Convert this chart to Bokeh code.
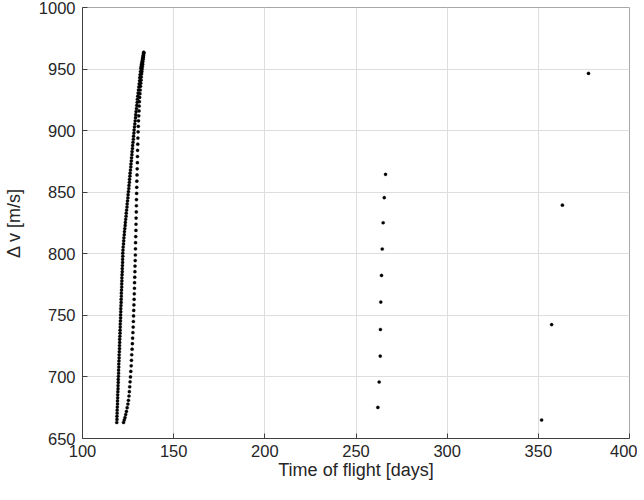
from bokeh.plotting import figure
from bokeh.models import Range1d, FixedTicker, ColumnDataSource
from bokeh.embed import file_html
from bokeh.resources import INLINE

# ---- data ----
loop_inner_y = [663.0, 665.5, 668.0, 670.5, 673.0, 675.5, 678.0, 680.5, 683.0, 685.5, 688.0, 690.5, 693.0, 695.5, 698.0,
                700.5, 703.0, 705.5, 708.0, 710.5, 713.0, 715.5, 718.0, 720.5, 723.0, 725.5, 728.0, 730.5, 733.0, 735.5,
                738.0, 740.5, 743.0, 745.5, 748.0, 750.5, 753.0, 755.5, 758.0, 760.5, 763.0, 765.5, 768.0, 770.5, 773.0,
                775.5, 778.0, 780.5, 783.0, 785.5, 788.0, 790.5, 793.0, 795.5, 798.0, 800.5, 803.0, 805.5, 808.0, 810.5,
                813.0, 815.5, 818.0, 820.5, 823.0, 825.5, 828.0, 830.5, 833.0, 835.5, 838.0, 840.5, 843.0, 845.5, 848.0,
                850.5, 853.0, 855.5, 858.0, 860.5, 863.0, 865.5, 868.0, 870.5, 873.0, 875.5, 878.0, 880.5, 883.0, 885.5,
                888.0, 890.5, 893.0, 895.5, 898.0, 900.5, 903.0, 905.5, 908.0, 910.5, 913.0, 915.5, 918.0, 920.5, 923.0,
                925.5, 928.0, 930.5, 933.0, 935.5, 938.0, 940.5, 943.0, 945.5, 948.0, 950.5, 952.0, 953.5, 955.0, 956.5,
                958.0, 959.5, 961.0, 962.5, 963.5]
loop_inner_x = [118.8, 118.9, 118.9, 119.0, 119.0, 119.1, 119.2, 119.2, 119.3, 119.3, 119.4, 119.5, 119.5, 119.6, 119.6,
                119.7, 119.8, 119.8, 119.9, 119.9, 120.0, 120.1, 120.1, 120.2, 120.3, 120.3, 120.4, 120.4, 120.5, 120.6,
                120.6, 120.7, 120.7, 120.8, 120.9, 120.9, 121.0, 121.0, 121.1, 121.2, 121.2, 121.3, 121.3, 121.4, 121.5,
                121.5, 121.6, 121.6, 121.7, 121.8, 121.8, 121.9, 122.0, 122.0, 122.1, 122.1, 122.2, 122.3, 122.5, 122.6,
                122.7, 122.9, 123.0, 123.2, 123.4, 123.5, 123.7, 123.9, 124.0, 124.2, 124.4, 124.5, 124.7, 124.9, 125.0,
                125.2, 125.4, 125.5, 125.7, 125.8, 126.0, 126.1, 126.3, 126.5, 126.6, 126.8, 126.9, 127.1, 127.2, 127.4,
                127.5, 127.7, 127.9, 128.0, 128.2, 128.3, 128.5, 128.7, 128.9, 129.1, 129.2, 129.4, 129.6, 129.8, 130.0,
                130.1, 130.3, 130.5, 130.7, 130.9, 131.1, 131.3, 131.4, 131.6, 131.8, 132.0, 132.2, 132.3, 132.5, 132.7,
                132.9, 133.1, 133.3, 133.5, 133.6]

loop_outer_y = [663, 665, 667, 669.5, 672, 675, 678, 681, 684.5, 688, 692, 696, 700, 704.5, 709, 713.5, 718, 722.5,
                727, 731.5, 736, 740.5, 745, 749.5, 754, 758.5, 763, 767.5, 772, 776.5, 781, 785.5, 790, 794.5, 799,
                804, 809, 814, 819, 824, 829, 834, 839, 844, 849, 854, 859, 864, 869, 874, 879, 884, 889, 894, 899,
                903.5, 908, 912, 916, 920, 923.5, 927, 930, 933, 936, 938.5, 941, 943.5, 946, 948, 950, 952, 954, 956,
                958, 959.5, 961, 962.5, 963.5]
loop_outer_x = [122.5, 122.9, 123.3, 123.7, 124.1, 124.5, 124.9, 125.2, 125.5, 125.7, 125.9, 126.1, 126.3, 126.5, 126.7,
                126.85, 127.0, 127.2, 127.35, 127.5, 127.65, 127.8, 127.9, 128.0, 128.1, 128.2, 128.3, 128.4, 128.5,
                128.55, 128.65, 128.75, 128.8, 128.9, 129.0, 129.05, 129.1, 129.2, 129.3, 129.35, 129.4, 129.5, 129.55,
                129.6, 129.7, 129.75, 129.8, 129.9, 130.0, 130.1, 130.15, 130.2, 130.3, 130.4, 130.5, 130.6, 130.7,
                130.85, 131.0, 131.1, 131.2, 131.35, 131.5, 131.65, 131.8, 131.95, 132.1, 132.25, 132.4, 132.55, 132.7,
                132.85, 133.0, 133.1, 133.25, 133.35, 133.45, 133.55, 133.6]

mid_x = [266.2, 265.5, 264.9, 264.4, 264.0, 263.6, 263.4, 263.3, 262.7, 262.0]
mid_y = [864.5, 845.6, 825.2, 803.9, 782.4, 760.8, 738.5, 716.9, 695.9, 675.2]

far_x = [351.8, 357.3, 363.2, 377.5]
far_y = [665.0, 742.5, 839.5, 946.5]

x_ticks = [100, 150, 200, 250, 300, 350, 400]
y_ticks = [650, 700, 750, 800, 850, 900, 950, 1000]

# ---- figure ----
FONT = "Liberation Sans"
TXT = "#262626"

p = figure(output_backend="svg", toolbar_location=None,
           frame_width=547, frame_height=431,
           min_border_left=73, min_border_right=8, min_border_top=7, min_border_bottom=46,
           x_range=Range1d(100, 400), y_range=Range1d(650, 1000),
           background_fill_color="white", border_fill_color="white")

xs = loop_inner_x + loop_outer_x + mid_x + far_x
ys = loop_inner_y + loop_outer_y + mid_y + far_y
src = ColumnDataSource(dict(x=xs, y=ys))
p.scatter("x", "y", source=src, marker="circle", size=3.2, fill_color="black", line_color="black", line_width=0.3)

p.outline_line_color = "#a8a8a8"
p.outline_line_width = 1

for ax in (p.xaxis[0], p.yaxis[0]):
    ax.axis_line_color = "#404040"
    ax.major_tick_line_color = "#404040"
    ax.major_tick_in = 5
    ax.major_tick_out = 0
    ax.minor_tick_line_color = None
    ax.major_label_text_font = FONT
    ax.major_label_text_font_size = "16.5px"
    ax.major_label_text_color = TXT
    ax.axis_label_text_font = FONT
    ax.axis_label_text_font_size = "18px"
    ax.axis_label_text_font_style = "normal"
    ax.axis_label_text_color = TXT

p.xaxis.ticker = FixedTicker(ticks=x_ticks)
p.yaxis.ticker = FixedTicker(ticks=y_ticks)
p.xaxis.axis_label = "Time of flight [days]"
p.yaxis.axis_label = "Δ v [m/s]"
p.xaxis.major_label_standoff = 6
p.xaxis.axis_label_standoff = 0
p.yaxis.major_label_standoff = 7
p.yaxis.axis_label_standoff = 12

p.xgrid.ticker = FixedTicker(ticks=x_ticks)
p.ygrid.ticker = FixedTicker(ticks=y_ticks)
p.grid.grid_line_color = "#dedede"
p.grid.grid_line_width = 1

open("out.html", "w").write(file_html(p, INLINE))
